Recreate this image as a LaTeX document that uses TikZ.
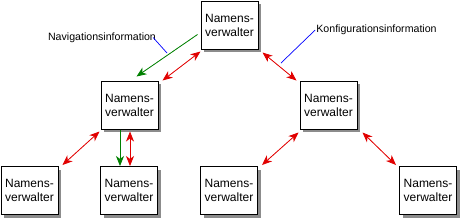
\documentclass[tikz,border=0pt]{standalone}
\usepackage{fontspec}
\setmainfont{Liberation Sans}
\usetikzlibrary{arrows.meta,calc,shadows}
\definecolor{arrred}{RGB}{225,0,0}
\definecolor{arrgreen}{RGB}{0,128,0}
\definecolor{lblue}{RGB}{0,0,255}
\begin{document}
\begin{tikzpicture}[x=1pt,y=-1pt,
  nbox/.style={draw=black, line width=1pt, fill=white, minimum width=57pt, minimum height=48pt,
    inner sep=0pt, align=center, font=\fontsize{12}{14}\selectfont,
    drop shadow={shadow xshift=3pt, shadow yshift=-3pt, opacity=1, fill=black!45}},
  lbl/.style={inner sep=0pt, font=\fontsize{10.6}{12}\selectfont},
  tip/.tip={Stealth[length=10pt,width=8pt,inset=3pt]},
  dbl/.style={draw=arrred, line width=0.8pt, {tip}-{tip}, fill=arrred},
  grn/.style={draw=arrgreen, line width=0.8pt, -{tip}, fill=arrgreen},
  pointer/.style={lblue, line width=0.7pt}]
\useasboundingbox (0,0) rectangle (460,218);

\node[nbox] (top) at (229.5,25) {Namens-\\verwalter};
\node[nbox] (ml) at (129.5,105) {Namens-\\verwalter};
\node[nbox] (mr) at (328.5,105) {Namens-\\verwalter};
\node[nbox] (b1) at (29.5,190.5) {Namens-\\verwalter};
\node[nbox] (b2) at (129,190.5) {Namens-\\verwalter};
\node[nbox] (b3) at (229,190.5) {Namens-\\verwalter};
\node[nbox] (b4) at (428,190.5) {Namens-\\verwalter};

\node[lbl] (nav) at (102,37.5) {Navigationsinformation};
\node[lbl] (konf) at (376.5,30) {Konfigurationsinformation};
\coordinate (navend) at (167,53);
\coordinate (konfend) at (281,63);

% green navigation arrows
\draw[grn] ($(top.south west)+(-3,-15)$) -- ($(ml.north west)+(36,-4)$);
\draw[grn] ($(ml.south)+(-9.5,0)$) -- ($(b2.north)+(-9,0)$);

% red double arrows
\draw[dbl] ($(top.south west)+(0,2)$) -- ($(ml.north east)+(4,0)$);
\draw[dbl] ($(top.south east)+(4,3)$) -- ($(mr.north west)+(-3,0)$);
\draw[dbl] ($(ml.south west)+(-1,2)$) -- ($(b1.north east)+(4,-1)$);
\draw[dbl] ($(ml.south)+(0.5,2)$) -- ($(b2.north)+(1,0)$);
\draw[dbl] ($(mr.south west)+(-1,3)$) -- ($(b3.north east)+(4,-1)$);
\draw[dbl] ($(mr.south east)+(5,3)$) -- ($(b4.north west)+(-3,-1)$);

% blue pointer lines
\draw[pointer] ($(nav.east)+(-3,0)$) -- (navend);
\draw[pointer] ($(konf.west)+(-1,0)$) -- (konfend);
\end{tikzpicture}
\end{document}
